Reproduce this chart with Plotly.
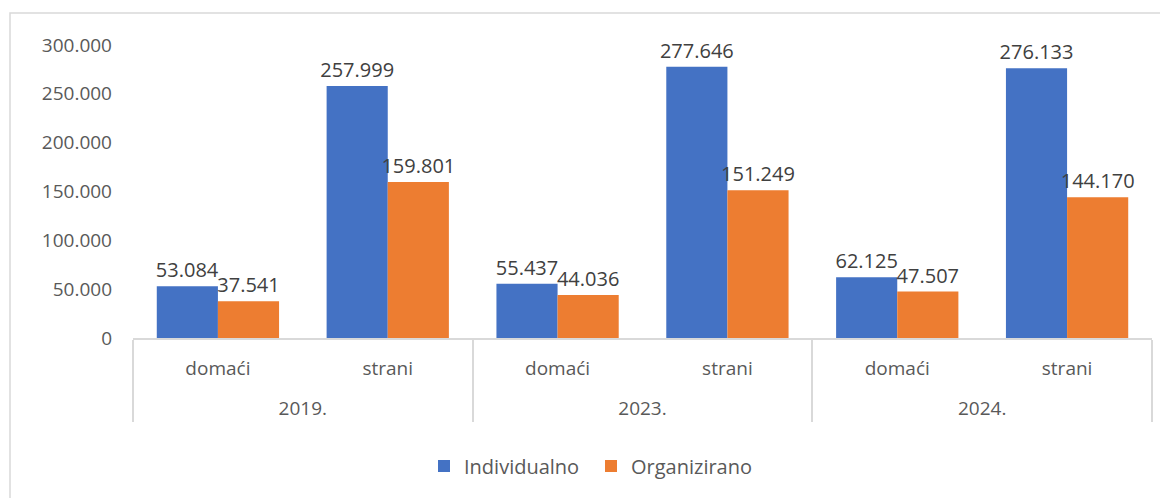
import plotly.graph_objects as go

years = ["2019.", "2019.", "2023.", "2023.", "2024.", "2024."]
groups = ["domaći", "strani", "domaći", "strani", "domaći", "strani"]
individualno = [53084, 257999, 55437, 277646, 62125, 276133]
organizirano = [37541, 159801, 44036, 151249, 47507, 144170]

# page has an 8px body margin, so the figure is drawn 8px in from the window edge
OFF = 8
W, H = 1168 - OFF, 498 - OFF
L, T = 133 - OFF, 45 - OFF
R = W - (1152 - OFF)
B = H - (338 - OFF)
pw, ph = W - L - R, H - T - B

font_family = "Open Sans, Lato, sans-serif"


def px_x(p):
    # screen pixel -> paper x
    return (p - OFF - L) / pw


def px_y(p):
    # screen pixel -> paper y
    return (H - B - (p - OFF)) / ph


# outer category labels get an empty first line to push them lower, like the original
outer = ["<br>" + y for y in years]

fig = go.Figure()
for name, vals, color in [("Individualno", individualno, "#4472C4"),
                          ("Organizirano", organizirano, "#ED7D31")]:
    fig.add_trace(go.Bar(
        x=[outer, groups],
        y=vals,
        name=name,
        marker=dict(color=color, line=dict(width=0)),
        texttemplate="%{y:,}",
        textposition="outside",
        constraintext="none",
        cliponaxis=False,
        textfont=dict(size=20, color="#404040", family=font_family),
    ))

fig.add_shape(type="rect", xref="paper", yref="paper",
              x0=px_x(10), x1=px_x(1190), y0=px_y(13), y1=px_y(520),
              line=dict(color="#D9D9D9", width=1.5), layer="below")

fig.update_layout(
    width=W, height=H,
    margin=dict(l=L, r=R, t=T, b=B, autoexpand=False),
    paper_bgcolor="white", plot_bgcolor="white",
    separators=",.",
    barmode="group",
    bargap=0.28,
    bargroupgap=0,
    font=dict(family=font_family, color="#595959", size=19),
    showlegend=True,
    legend=dict(orientation="h", x=px_x(424), xanchor="left", y=px_y(466), yanchor="middle",
                font=dict(size=20, color="#595959"), itemwidth=30, entrywidth=122,
                traceorder="normal"),
    xaxis=dict(
        type="multicategory",
        showline=True, linecolor="#D9D9D9", linewidth=1.5,
        showgrid=False, ticks="",
        showdividers=True, dividercolor="#D9D9D9", dividerwidth=1.5,
        ticklabelstandoff=12,
        tickfont=dict(size=19, color="#595959"),
    ),
    yaxis=dict(
        range=[0, 300000],
        tickvals=[0, 50000, 100000, 150000, 200000, 250000, 300000],
        tickformat=",",
        showgrid=False, zeroline=False, showline=False,
        ticks="", ticklabelstandoff=20,
        tickfont=dict(size=19, color="#595959"),
    ),
)

fig.write_html("out.html")
